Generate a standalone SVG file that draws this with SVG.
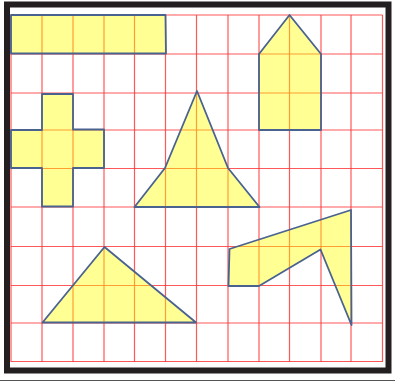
<svg xmlns="http://www.w3.org/2000/svg" width="395" height="383" viewBox="0 0 395 383">
<style>
.g line{stroke:#ff3b3b;stroke-width:1.2;stroke-opacity:0.85}
.s{fill:#ffff00;fill-opacity:0.42;stroke:#4a6290;stroke-width:1.8;stroke-linejoin:round}
</style>
<rect x="0" y="0" width="395" height="383" fill="#ffffff"/>
<rect x="7" y="4.5" width="381.5" height="366" fill="#ffffff" stroke="#231f20" stroke-width="6"/>
<line x1="0" y1="380.5" x2="395" y2="380.5" stroke="#555" stroke-width="1"/>
<g class="g" id="grid">
<line x1="11" y1="15" x2="11" y2="362"/>
<line x1="42" y1="15" x2="42" y2="362"/>
<line x1="73" y1="15" x2="73" y2="362"/>
<line x1="104" y1="15" x2="104" y2="362"/>
<line x1="134.5" y1="15" x2="134.5" y2="362"/>
<line x1="165.5" y1="15" x2="165.5" y2="362"/>
<line x1="196.5" y1="15" x2="196.5" y2="362"/>
<line x1="228" y1="15" x2="228" y2="362"/>
<line x1="259" y1="15" x2="259" y2="362"/>
<line x1="289.5" y1="15" x2="289.5" y2="362"/>
<line x1="321" y1="15" x2="321" y2="362"/>
<line x1="351" y1="15" x2="351" y2="362"/>
<line x1="382.5" y1="15" x2="382.5" y2="362"/>
<line x1="11" y1="15" x2="382.5" y2="15"/>
<line x1="11" y1="54" x2="382.5" y2="54"/>
<line x1="11" y1="93" x2="382.5" y2="93"/>
<line x1="11" y1="130" x2="382.5" y2="130"/>
<line x1="11" y1="168.5" x2="382.5" y2="168.5"/>
<line x1="11" y1="207" x2="382.5" y2="207"/>
<line x1="11" y1="246.5" x2="382.5" y2="246.5"/>
<line x1="11" y1="285.5" x2="382.5" y2="285.5"/>
<line x1="11" y1="323" x2="382.5" y2="323"/>
<line x1="11" y1="361.5" x2="382.5" y2="361.5"/>
</g>
<g id="rect"><polygon class="s" points="11,15 165.5,15 166,53.5 11,53.5"/></g>
<g id="cross"><polygon class="s" points="42,94 73,94 73,129.5 104,129.5 104,168 73,168 73,206.5 42,206.5 42,168 11,168 11,130 42,130"/></g>
<g id="triangle-mid"><polygon class="s" points="197,91 228,168 259.5,207 134.5,207 165,168"/></g>
<g id="house"><polygon class="s" points="289.5,15 321,54 321,130 259,130 259,54"/></g>
<g id="triangle-bottom"><polygon class="s" points="42.5,322.5 104.5,247 196,322.5"/></g>
<g id="hook"><polygon class="s" points="351,210 351.5,325 320.5,249.5 259,286 228.5,286 229.5,249"/></g>
</svg>
